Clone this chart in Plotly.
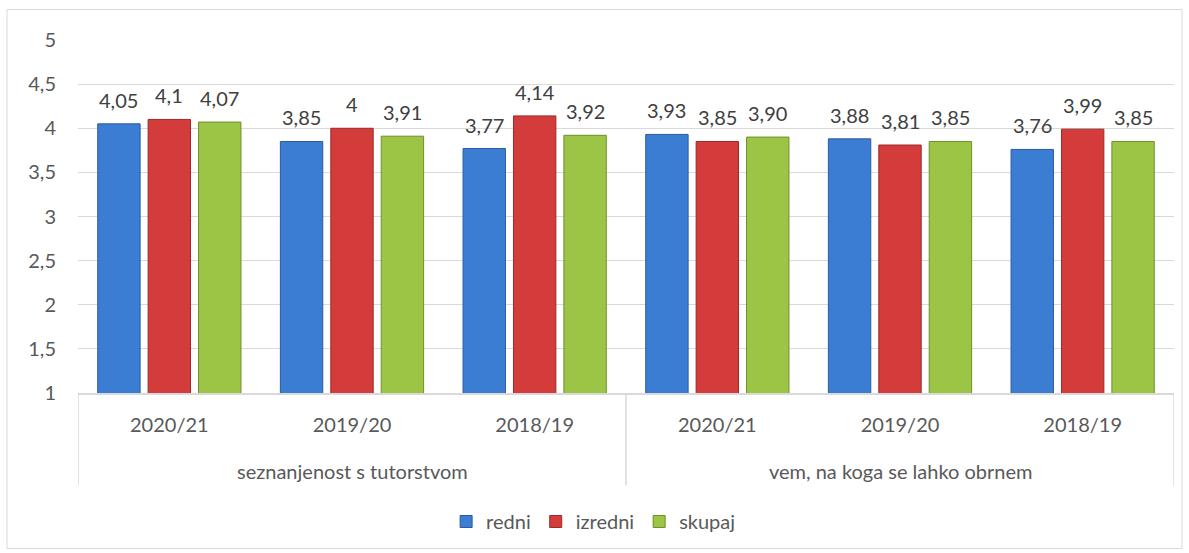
import plotly.graph_objects as go

groups = ["seznanjenost s tutorstvom"] * 3 + ["vem, na koga se lahko obrnem"] * 3
years = ["2020/21", "2019/20", "2018/19"] * 2

redni = [4.05, 3.85, 3.77, 3.93, 3.88, 3.76]
izredni = [4.10, 4.00, 4.14, 3.85, 3.81, 3.99]
skupaj = [4.07, 3.91, 3.92, 3.90, 3.85, 3.85]

redni_lbl = ["4,05", "3,85", "3,77", "3,93", "3,88", "3,76"]
izredni_lbl = ["4,1", "4", "4,14", "3,85", "3,81", "3,99"]
skupaj_lbl = ["4,07", "3,91", "3,92", "3,90", "3,85", "3,85"]

series = [
    ("redni", redni, redni_lbl, "#3c7dd4", "#2a5a9e"),
    ("izredni", izredni, izredni_lbl, "#d43b3b", "#9c2a2a"),
    ("skupaj", skupaj, skupaj_lbl, "#9dc545", "#6e8f2c"),
]

FONT = "Lato, Open Sans, sans-serif"
GRAY = "#595959"
STEP = 0.276   # distance between bar centres inside a category
WIDTH = 0.232  # bar width in category units

idx = list(range(len(years)))

fig = go.Figure()
annotations = []
for k, (name, vals, lbls, col, edge) in enumerate(series):
    shift = (k - 1) * STEP
    xs = [i + shift for i in idx]
    fig.add_trace(go.Bar(
        x=xs, y=vals, name=name, width=WIDTH,
        marker=dict(color=col, line=dict(color=edge, width=1)),
        hoverinfo="y+name",
    ))
    for x, v, t in zip(xs, vals, lbls):
        annotations.append(dict(x=x, y=v, xref="x", yref="y", text=t, showarrow=False,
                                yanchor="bottom", yshift=10,
                                font=dict(size=20, color="#404040", family=FONT)))

# outer category labels and dividers
shapes = []
group_names = list(dict.fromkeys(groups))
bounds = [-0.5]
for g in group_names:
    members = [i for i, gg in enumerate(groups) if gg == g]
    annotations.append(dict(x=sum(members) / len(members), y=-0.222, xref="x", yref="paper",
                            text=g, showarrow=False, yanchor="middle",
                            font=dict(size=20, color=GRAY, family=FONT)))
    bounds.append(members[-1] + 0.5)
for b in bounds:
    shapes.append(dict(type="line", xref="x", yref="paper", x0=b, x1=b, y0=0, y1=-0.262,
                       line=dict(color="#d9d9d9", width=1.5)))

# chart border
shapes.append(dict(type="rect", xref="paper", yref="paper",
                   x0=-0.0648, x1=1.0073, y0=-0.4405, y1=1.0864,
                   line=dict(color="#d9d9d9", width=1)))

fig.update_layout(
    width=1189, height=553,
    barmode="overlay",
    separators=",.",
    plot_bgcolor="white", paper_bgcolor="white",
    font=dict(family=FONT, size=20, color=GRAY),
    margin=dict(l=78, r=15, t=40, b=160, autoexpand=False),
    showlegend=True,
    legend=dict(orientation="h", x=0.47, xanchor="center", y=-0.364, yanchor="middle",
                font=dict(size=20, color=GRAY), itemwidth=30, traceorder="normal"),
    annotations=annotations,
    shapes=shapes,
)
fig.update_yaxes(range=[1, 5], dtick=0.5, showgrid=True, gridcolor="#d9d9d9",
                 zeroline=False, automargin=False, ticklabelstandoff=21,
                 tickfont=dict(size=20, color=GRAY))
fig.update_xaxes(range=[-0.5, len(years) - 0.5], tickvals=idx, ticktext=years,
                 showline=True, linecolor="#d9d9d9", linewidth=1.5, showgrid=False,
                 zeroline=False, automargin=False, ticklabelstandoff=13,
                 tickfont=dict(size=20, color=GRAY))

fig.write_html("out.html", config={"displayModeBar": False},
               post_script="document.body.style.margin='0px';")
